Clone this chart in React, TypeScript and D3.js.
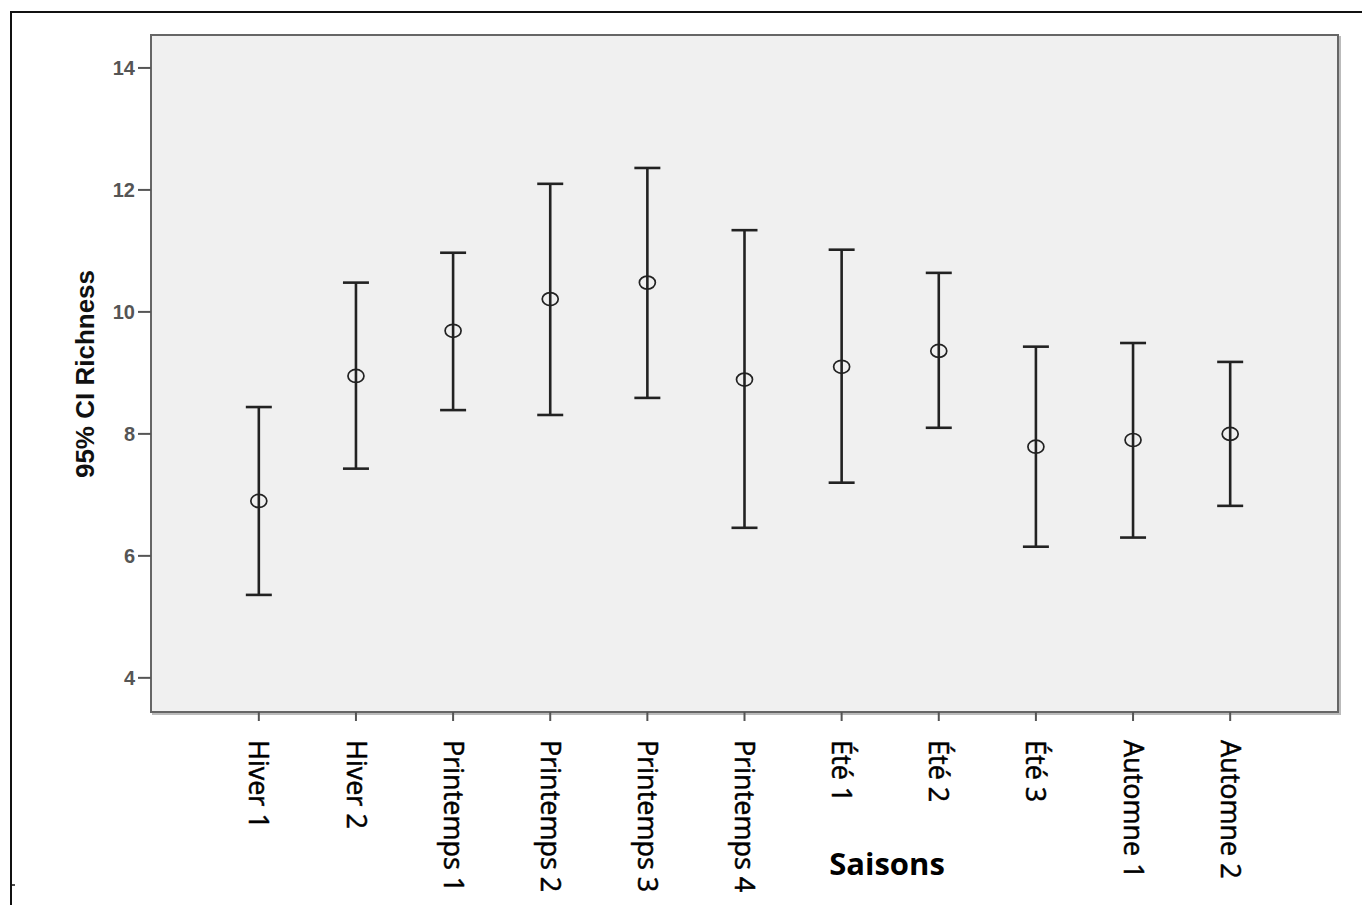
import React from "react";
import * as d3 from "d3";

const categories = ["Hiver 1", "Hiver 2", "Printemps 1", "Printemps 2", "Printemps 3", "Printemps 4", "Été 1", "Été 2", "Été 3", "Automne 1", "Automne 2"];
const means = [6.9, 8.95, 9.69, 10.21, 10.48, 8.89, 9.1, 9.36, 7.79, 7.9, 8.0];
const lowers = [5.36, 7.43, 8.39, 8.31, 8.59, 6.46, 7.2, 8.1, 6.15, 6.3, 6.82];
const uppers = [8.44, 10.48, 10.97, 12.1, 12.36, 11.34, 11.02, 10.64, 9.43, 9.49, 9.18];
const yTicks = [4, 6, 8, 10, 12, 14];
const yTitle = "95% CI Richness";
const xTitle = "Saisons";

const W = 1362, H = 905;
const plot = { left: 151, top: 35, right: 1338, bottom: 712 };

export default function App() {
  const x = d3.scalePoint<string>().domain(categories).range([plot.left, plot.right]).padding(1.11);
  const y = d3.scaleLinear().domain([3.44, 14.54]).range([plot.bottom, plot.top]);
  const cap = 13;
  return (
    <svg width={W} height={H} style={{ position: "absolute", left: 0, top: 0, background: "#fff" }}>
      {/* outer frame */}
      <path d={`M11,${H} L11,12 L${W},12`} fill="none" stroke="#111" strokeWidth={2} />
      <line x1={11} x2={15} y1={885} y2={885} stroke="#111" strokeWidth={1.5} />
      {/* plot area */}
      <rect x={plot.left + 2} y={plot.top + 2} width={plot.right - plot.left} height={plot.bottom - plot.top} fill="none" stroke="#bbb" strokeWidth={2} />
      <rect x={plot.left} y={plot.top} width={plot.right - plot.left} height={plot.bottom - plot.top} fill="#f0f0f0" stroke="#666" strokeWidth={2} />
      {/* y ticks */}
      {yTicks.map((t) => (
        <g key={t}>
          <line x1={plot.left - 13} x2={plot.left} y1={y(t)} y2={y(t)} stroke="#555" strokeWidth={2} />
          <text x={plot.left - 16} y={y(t)} dy="0.36em" textAnchor="end" fontFamily="Liberation Sans, Arial, sans-serif" fontWeight="bold" fontSize={20} fill="#555">{t}</text>
        </g>
      ))}
      <text transform={`translate(94,${(270 + 478) / 2}) rotate(-90)`} textAnchor="middle" fontFamily="Liberation Sans, Arial, sans-serif" fontWeight="bold" fontSize={26} fill="#111">{yTitle}</text>
      {/* x ticks & labels */}
      {categories.map((c) => (
        <g key={c}>
          <line x1={x(c)} x2={x(c)} y1={plot.bottom} y2={plot.bottom + 9} stroke="#555" strokeWidth={2} />
          <text transform={`translate(${x(c)},740) rotate(90)`} dy="0.35em" textAnchor="start" fontFamily="Open Sans, sans-serif" fontSize={27} fill="#000" stroke="#000" strokeWidth={0.5}>{c}</text>
        </g>
      ))}
      <text x={887} y={875} textAnchor="middle" fontFamily="Open Sans, sans-serif" fontWeight="bold" fontSize={31} fill="#000">{xTitle}</text>
      {/* error bars */}
      {categories.map((c, i) => {
        const cx = x(c)!;
        return (
          <g key={c} stroke="#222" fill="none">
            <line x1={cx} x2={cx} y1={y(lowers[i])} y2={y(uppers[i])} strokeWidth={2.6} />
            <line x1={cx - cap} x2={cx + cap} y1={y(lowers[i])} y2={y(lowers[i])} strokeWidth={2.6} />
            <line x1={cx - cap} x2={cx + cap} y1={y(uppers[i])} y2={y(uppers[i])} strokeWidth={2.6} />
            <ellipse cx={cx} cy={y(means[i])} rx={8} ry={6.5} fill="#f0f0f0" strokeWidth={1.7} />
            <line x1={cx} x2={cx} y1={y(means[i]) - 6.5} y2={y(means[i]) + 6.5} strokeWidth={2.6} />
          </g>
        );
      })}
    </svg>
  );
}
